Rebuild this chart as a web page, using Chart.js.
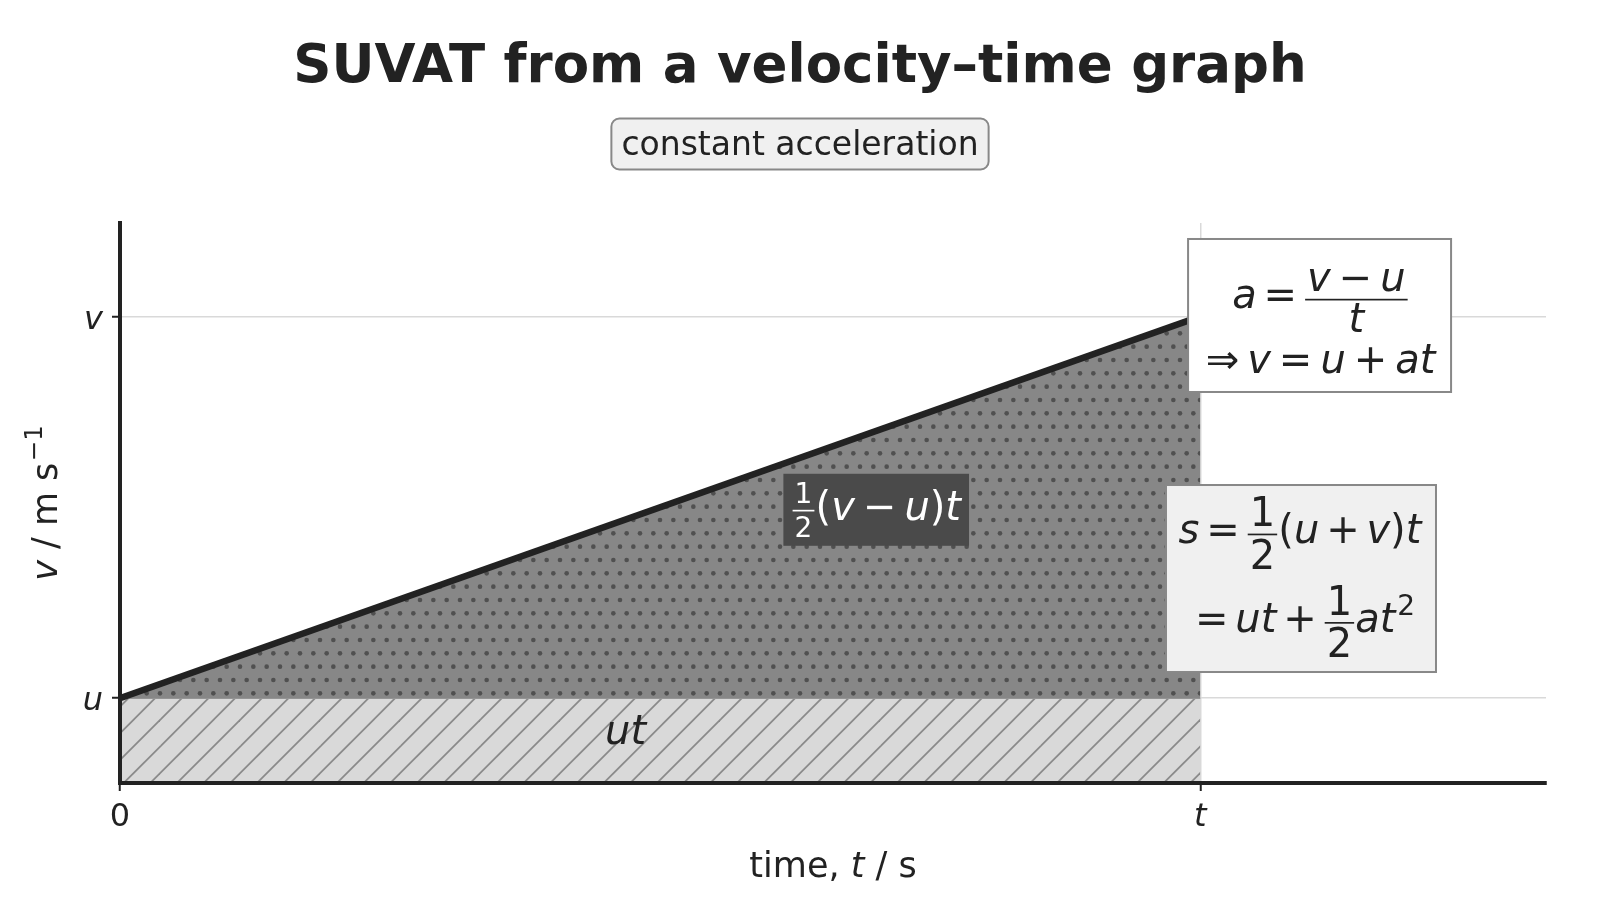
<!DOCTYPE html>
<html>
<head>
<meta charset="utf-8">
<script src="https://cdn.jsdelivr.net/npm/chart.js@4.4.1/dist/chart.umd.min.js"></script>
<style>
html,body{margin:0;padding:0;background:#ffffff;}
#wrap{width:1600px;height:900px;position:relative;}
</style>
</head>
<body>
<div id="wrap"><canvas id="chart" width="1600" height="900"></canvas></div>
<script>
// ---- data ----
const timePoints = [0, 5];              // 0 and t
const velocityValues = [1, 5.5];        // u -> v
const initialVelocityValues = [1, 1];   // u held constant (ut rectangle top)
const xTickValues = [0, 5];
const xTickLabels = ['0', 't'];
const yTickValues = [1, 5.5];
const yTickLabels = ['u', 'v'];
const xAxisMax = 6.6;
const yAxisMax = 6.6;

// ---- helpers ----
const FF = '"DejaVu Sans", "Noto Sans", sans-serif';
const INK = '#222222';
function fnt(size, it, bold) { return (it ? 'italic ' : '') + (bold ? 'bold ' : '') + size + 'px ' + FF; }

function makeHatch() {
  const c = document.createElement('canvas');
  c.width = 80; c.height = 80;
  const g = c.getContext('2d');
  g.fillStyle = '#d9d9d9';
  g.fillRect(0, 0, 80, 80);
  g.strokeStyle = '#8a8a8a';
  g.lineWidth = 1.8;
  const step = 80 / 3;
  for (let k = -3; k <= 9; k++) {
    const cc = k * step;
    g.beginPath();
    g.moveTo(cc + 10, -10);
    g.lineTo(cc - 90, 90);
    g.stroke();
  }
  return c;
}
function makeDots() {
  const c = document.createElement('canvas');
  c.width = 80; c.height = 80;
  const g = c.getContext('2d');
  g.fillStyle = '#878787';
  g.fillRect(0, 0, 80, 80);
  g.fillStyle = '#505050';
  const step = 80 / 6;
  for (let r = -1; r <= 7; r++) {
    for (let col = -1; col <= 7; col++) {
      const px = col * step + ((((r % 2) + 2) % 2) ? step / 2 : 0);
      const py = r * step;
      g.beginPath();
      g.arc(px, py, 2.3, 0, Math.PI * 2);
      g.fill();
    }
  }
  return c;
}

// math tokens
function R(s) { return { t: s, i: false }; }
function I(s) { return { t: s, i: true }; }
function S(em) { return { sp: em }; }
function SUP(toks) { return { sup: toks }; }
const DISP = { scale: 1, nb: -0.43, db: 0.63, bar: -0.225 };
const DISPL = { scale: 1, nb: -0.43, db: 0.60, bar: -0.21 };
const SMALL = { scale: 0.7, nb: -0.43, db: 0.42, bar: -0.23 };
function F(n, d, o) { return Object.assign({ frac: true, n: n, d: d }, o); }

function measureMath(ctx, toks, size) {
  let w = 0;
  for (const k of toks) {
    if (k.sp !== undefined) w += k.sp * size;
    else if (k.frac) {
      const s = size * k.scale;
      w += Math.max(measureMath(ctx, k.n, s), measureMath(ctx, k.d, s)) + 0.16 * size;
    } else if (k.sup) {
      w += measureMath(ctx, k.sup, size * 0.7) + 0.04 * size;
    } else {
      ctx.font = fnt(size, k.i);
      w += ctx.measureText(k.t).width;
    }
  }
  return w;
}
function drawMath(ctx, toks, x, base, size, color) {
  ctx.fillStyle = color;
  ctx.strokeStyle = color;
  ctx.textAlign = 'left';
  ctx.textBaseline = 'alphabetic';
  for (const k of toks) {
    if (k.sp !== undefined) { x += k.sp * size; }
    else if (k.frac) {
      const s = size * k.scale;
      const wn = measureMath(ctx, k.n, s), wd = measureMath(ctx, k.d, s);
      const w = Math.max(wn, wd) + 0.16 * size;
      drawMath(ctx, k.n, x + (w - wn) / 2, base + k.nb * size, s, color);
      drawMath(ctx, k.d, x + (w - wd) / 2, base + k.db * size, s, color);
      ctx.fillStyle = color;
      ctx.fillRect(x + 0.03 * size, base + k.bar * size - 0.02 * size, w - 0.06 * size, 0.042 * size);
      x += w;
    } else if (k.sup) {
      x += 0.04 * size;
      drawMath(ctx, k.sup, x, base - 0.42 * size, size * 0.7, color);
      x += measureMath(ctx, k.sup, size * 0.7);
    } else {
      ctx.font = fnt(size, k.i);
      ctx.fillStyle = color;
      ctx.textAlign = 'left';
      ctx.textBaseline = 'alphabetic';
      ctx.fillText(k.t, x, base);
      x += ctx.measureText(k.t).width;
    }
  }
  return x;
}
function drawMathCentered(ctx, toks, cx, base, size, color) {
  const w = measureMath(ctx, toks, size);
  drawMath(ctx, toks, cx - w / 2, base, size, color);
  return w;
}
function roundRect(ctx, x, y, w, h, r) {
  ctx.beginPath();
  ctx.moveTo(x + r, y);
  ctx.lineTo(x + w - r, y);
  ctx.arcTo(x + w, y, x + w, y + r, r);
  ctx.lineTo(x + w, y + h - r);
  ctx.arcTo(x + w, y + h, x + w - r, y + h, r);
  ctx.lineTo(x + r, y + h);
  ctx.arcTo(x, y + h, x, y + h - r, r);
  ctx.lineTo(x, y + r);
  ctx.arcTo(x, y, x + r, y, r);
  ctx.closePath();
}

const SPC = 0.17;
const box1Lines = [
  { toks: [I('a'), S(SPC), R('='), S(SPC), F([I('v'), S(0.2), R('\u2212'), S(0.2), I('u')], [I('t')], DISPL)], dy: -7.5 },
  { toks: [R('\u21D2'), S(0.2), I('v'), S(0.2), R('='), S(0.2), I('u'), S(0.2), R('+'), S(0.2), I('at')], dy: 57.8 }
];
const box2Lines = [
  { toks: [I('s'), S(SPC), R('='), S(SPC), F([R('1')], [R('2')], DISP), R('('), I('u'), S(SPC), R('+'), S(SPC), I('v'), R(')'), I('t')], dy: -35.1 },
  { toks: [R('='), S(SPC), I('ut'), S(SPC), R('+'), S(SPC), F([R('1')], [R('2')], DISP), I('at'), SUP([R('2')])], dy: 53.3 }
];
const triLabel = [F([R('1')], [R('2')], SMALL), R('('), I('v'), S(0.2), R('\u2212'), S(0.2), I('u'), R(')'), I('t')];

const suvatPlugin = {
  id: 'suvatText',
  afterDatasetsDraw(chart) {
    const ctx = chart.ctx;
    const xs = chart.scales.x, ys = chart.scales.y;
    // axis spines on top of the filled areas
    if (typeof xs.drawBorder === 'function') { xs.drawBorder(); ys.drawBorder(); }
    ctx.save();
    // ut label
    {
      const cx = xs.getPixelForValue(2.34), cy = ys.getPixelForValue(0.46);
      drawMathCentered(ctx, [I('ut')], cx, cy, 40, INK);
    }
    // 1/2 (v-u) t label on dark box
    {
      const cx = xs.getPixelForValue(3.5), cy = ys.getPixelForValue(3.22);
      const w = measureMath(ctx, triLabel, 40);
      ctx.fillStyle = '#4a4a4a';
      ctx.fillRect(cx - w / 2 - 8, cy - 36, w + 16, 72);
      drawMath(ctx, triLabel, cx - w / 2, cy + 10, 40, '#ffffff');
    }
    // box 1
    {
      const cx = xs.getPixelForValue(5.552), cy = ys.getPixelForValue(5.51);
      const bw = 263, bh = 153;
      ctx.fillStyle = '#ffffff';
      ctx.fillRect(cx - bw / 2, cy - bh / 2, bw, bh);
      ctx.strokeStyle = '#888888';
      ctx.lineWidth = 2;
      ctx.strokeRect(cx - bw / 2, cy - bh / 2, bw, bh);
      for (const L of box1Lines) drawMathCentered(ctx, L.toks, cx + 1, cy + L.dy, 40, INK);
    }
    // box 2
    {
      const cx = xs.getPixelForValue(5.466), cy = ys.getPixelForValue(2.41);
      const bw = 270, bh = 187;
      ctx.fillStyle = '#f0f0f0';
      ctx.fillRect(cx - bw / 2, cy - bh / 2, bw, bh);
      ctx.strokeStyle = '#888888';
      ctx.lineWidth = 2;
      ctx.strokeRect(cx - bw / 2, cy - bh / 2, bw, bh);
      box2Lines.forEach((L, i) => drawMathCentered(ctx, L.toks, cx + (i ? 4 : -1), cy + L.dy, 40, INK));
    }
    ctx.restore();
  },
  afterDraw(chart) {
    const ctx = chart.ctx;
    ctx.save();
    // title
    ctx.font = fnt(53, false, true);
    ctx.fillStyle = INK;
    ctx.textAlign = 'center';
    ctx.textBaseline = 'alphabetic';
    ctx.fillText('SUVAT from a velocity\u2013time graph', 800, 81.7);
    // subtitle box
    ctx.font = fnt(33, false);
    const sw = ctx.measureText('constant acceleration').width;
    roundRect(ctx, 800 - sw / 2 - 10, 118.5, sw + 20, 51, 8);
    ctx.fillStyle = '#f0f0f0';
    ctx.fill();
    ctx.strokeStyle = '#888888';
    ctx.lineWidth = 2;
    ctx.stroke();
    ctx.fillStyle = INK;
    ctx.textAlign = 'center';
    ctx.fillText('constant acceleration', 800, 155);
    // x axis label
    const xa = chart.chartArea;
    drawMathCentered(ctx, [R('time, '), I('t'), R(' / s')], (xa.left + xa.right) / 2, 876.7, 35, INK);
    // y axis label
    ctx.translate(57, (xa.top + xa.bottom) / 2);
    ctx.rotate(-Math.PI / 2);
    drawMathCentered(ctx, [I('v'), R(' / m s'), SUP([R('\u22121')])], 0, 0, 35, INK);
    ctx.restore();
  }
};

const ctx = document.getElementById('chart').getContext('2d');
const hatch = ctx.createPattern(makeHatch(), 'repeat');
const dots = ctx.createPattern(makeDots(), 'repeat');

const tickFont = (c) => ({ family: FF, size: 32, style: (c.tick && c.tick.value === 0) ? 'normal' : 'italic' });

new Chart(ctx, {
  type: 'line',
  data: {
    datasets: [
      {
        label: 'ut',
        data: timePoints.map((t, i) => ({ x: t, y: initialVelocityValues[i] })),
        borderColor: '#999999',
        borderWidth: 1.5,
        backgroundColor: hatch,
        fill: 'origin',
        pointRadius: 0,
        order: 1
      },
      {
        label: 'velocity',
        data: timePoints.map((t, i) => ({ x: t, y: velocityValues[i] })),
        borderColor: '#222222',
        borderWidth: 6.5,
        backgroundColor: dots,
        fill: '-1',
        pointRadius: 0,
        borderCapStyle: 'butt',
        order: 0
      }
    ]
  },
  options: {
    responsive: false,
    animation: false,
    devicePixelRatio: 1,
    layout: { padding: { top: 223, right: 54, bottom: 0, left: 0 } },
    plugins: { legend: { display: false }, tooltip: { enabled: false }, title: { display: false } },
    elements: { line: { tension: 0 } },
    scales: {
      x: {
        type: 'linear',
        min: 0,
        max: xAxisMax,
        afterBuildTicks: (s) => { s.ticks = xTickValues.map(v => ({ value: v })); },
        afterFit: (s) => { s.height = 117; },
        ticks: {
          autoSkip: false,
          maxRotation: 0,
          padding: 7,
          color: INK,
          font: tickFont,
          callback: (v, i) => xTickLabels[i]
        },
        grid: { color: '#d9d9d9', lineWidth: 1.5, tickColor: '#222222', tickLength: 8, tickWidth: 2 },
        border: { display: true, color: '#222222', width: 4 }
      },
      y: {
        type: 'linear',
        min: 0,
        max: yAxisMax,
        afterBuildTicks: (s) => { s.ticks = yTickValues.map(v => ({ value: v })); },
        afterFit: (s) => { s.width = 120; },
        ticks: {
          autoSkip: false,
          padding: 9,
          labelOffset: 4,
          color: INK,
          font: tickFont,
          callback: (v, i) => yTickLabels[i]
        },
        grid: { color: '#d9d9d9', lineWidth: 1.5, tickColor: '#222222', tickLength: 8, tickWidth: 2 },
        border: { display: true, color: '#222222', width: 4 }
      }
    }
  },
  plugins: [suvatPlugin]
});
</script>
</body>
</html>
